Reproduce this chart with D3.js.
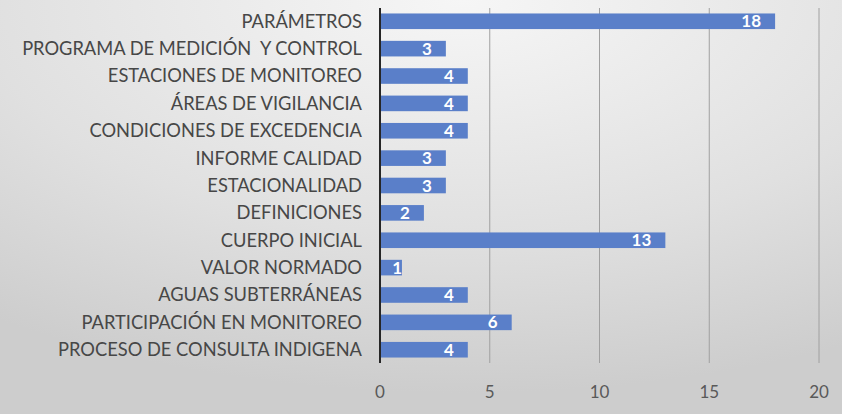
<!DOCTYPE html>
<html>
<head>
<meta charset="utf-8">
<script src="https://cdn.jsdelivr.net/npm/d3@7"></script>
<style>
  body { margin: 0; }
  svg { display: block; }
  text { white-space: pre; }
</style>
</head>
<body>
<div class="chart"></div>
<script>
var categories = [
  'PARÁMETROS',
  'PROGRAMA DE MEDICIÓN  Y CONTROL',
  'ESTACIONES DE MONITOREO',
  'ÁREAS DE VIGILANCIA',
  'CONDICIONES DE EXCEDENCIA',
  'INFORME CALIDAD',
  'ESTACIONALIDAD',
  'DEFINICIONES',
  'CUERPO INICIAL',
  'VALOR NORMADO',
  'AGUAS SUBTERRÁNEAS',
  'PARTICIPACIÓN EN MONITOREO',
  'PROCESO DE CONSULTA INDIGENA'];

var values = [18, 3, 4, 4, 4, 3, 3, 2, 13, 1, 4, 6, 4];

var tickValues = [0, 5, 10, 15, 20];

var width = 842, height = 414;

var svg = d3.select(".chart")
  .append("svg")
    .attr("width", width)
    .attr("height", height);

// background gradient, light at the top centre
var defs = svg.append("defs");
var grad = defs.append("radialGradient")
  .attr("id", "bg")
  .attr("cx", "55%").attr("cy", "0%")
  .attr("r", "95%")
  .attr("gradientUnits", "objectBoundingBox");
grad.append("stop").attr("offset", "0%").attr("stop-color", "#f6f6f6");
grad.append("stop").attr("offset", "60%").attr("stop-color", "#e0e0e0");
grad.append("stop").attr("offset", "100%").attr("stop-color", "#cdcdcd");

svg.append("rect")
  .attr("width", width)
  .attr("height", height)
  .attr("fill", "url(#bg)");

var x = d3.scaleLinear().domain([0, 20]).range([380, 819]);
var y = d3.scaleBand().domain(categories).range([8, 363]).paddingInner(0.43).paddingOuter(0.2);

//vertical gridlines
svg.selectAll(".grid")
  .data(tickValues.slice(1))
  .enter()
    .append("line")
      .attr("x1", function(d) { return x(d); })
      .attr("x2", function(d) { return x(d); })
      .attr("y1", 8)
      .attr("y2", 363)
      .attr("stroke", "#a0a0a0")
      .attr("stroke-width", 1);

//bars
svg.selectAll(".bar")
  .data(values)
  .enter()
    .append("rect")
      .attr("x", x(0))
      .attr("y", function(d, i) { return y(categories[i]); })
      .attr("width", function(d) { return x(d) - x(0); })
      .attr("height", y.bandwidth())
      .attr("fill", "#5a7fc9");

//axis line
svg.append("line")
  .attr("x1", x(0)).attr("x2", x(0))
  .attr("y1", 8).attr("y2", 363)
  .attr("stroke", "#262626")
  .attr("stroke-width", 2);

//category labels, sized so the longest fits the reference width
var labels = svg.selectAll(".cat")
  .data(categories)
  .enter()
    .append("text")
      .attr("x", 362)
      .attr("y", function(d) { return y(d) + y.bandwidth() / 2; })
      .attr("dy", "0.35em")
      .attr("text-anchor", "end")
      .attr("font-family", "Lato, 'Open Sans', sans-serif")
      .attr("font-size", "15px")
      .attr("fill", "#474747")
      .text(function(d) { return d; });

var longest = 0;
labels.each(function() { longest = Math.max(longest, this.getComputedTextLength()); });
labels.attr("font-size", (15 * 340 / longest).toFixed(2) + "px");

//value labels inside bar end
svg.selectAll(".val")
  .data(values)
  .enter()
    .append("text")
      .attr("x", function(d) { return Math.max(x(d) - 14, x(0) + 22); })
      .attr("y", function(d, i) { return y(categories[i]) + y.bandwidth() / 2; })
      .attr("dy", "0.36em")
      .attr("text-anchor", "end")
      .attr("font-family", "Lato, 'Open Sans', sans-serif")
      .attr("font-weight", "bold")
      .attr("font-size", "17px")
      .attr("fill", "#ffffff")
      .text(function(d) { return d; });

//tick labels
svg.selectAll(".tick")
  .data(tickValues)
  .enter()
    .append("text")
      .attr("x", function(d) { return x(d); })
      .attr("y", 392)
      .attr("dy", "0.35em")
      .attr("text-anchor", "middle")
      .attr("font-family", "Lato, 'Open Sans', sans-serif")
      .attr("font-size", "17px")
      .attr("fill", "#595959")
      .text(function(d) { return d; });
</script>
</body>
</html>
